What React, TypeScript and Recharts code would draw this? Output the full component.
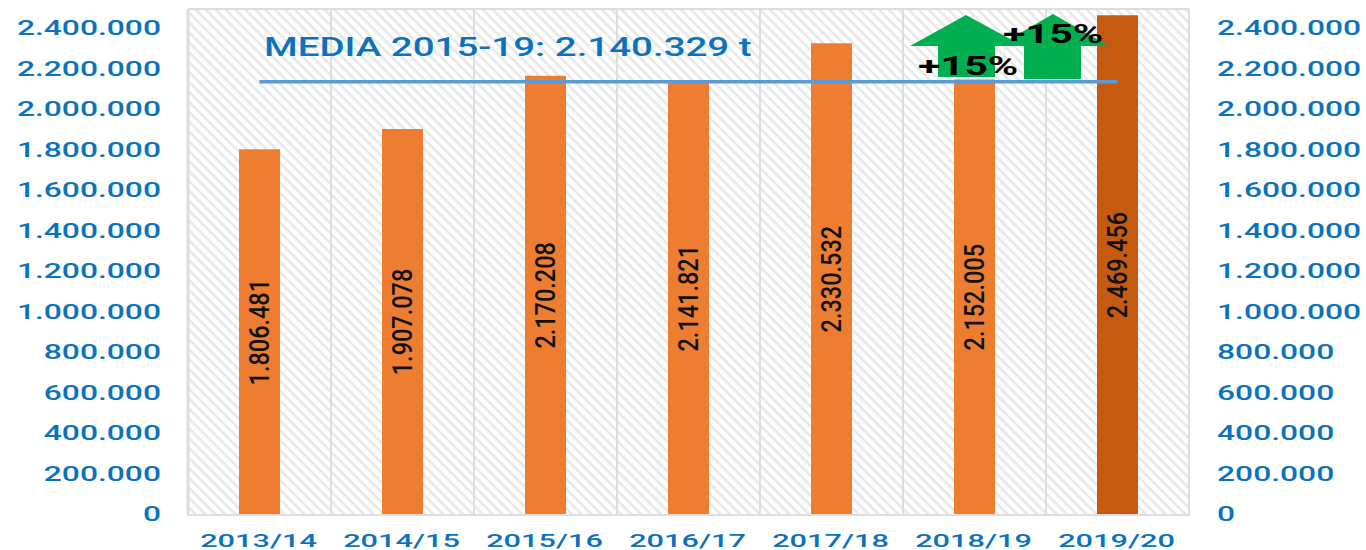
import { Bar, CartesianGrid, Cell, ComposedChart, LabelList, Line, XAxis, YAxis } from "recharts"

const categories = ["2013/14", "2014/15", "2015/16", "2016/17", "2017/18", "2018/19", "2019/20"]
const production = [1806481, 1907078, 2170208, 2141821, 2330532, 2152005, 2469456]
const mean = [2140329, 2140329, 2140329, 2140329, 2140329, 2140329, 2140329]
const yTicks = [0, 200000, 400000, 600000, 800000, 1000000, 1200000, 1400000, 1600000, 1800000, 2000000, 2200000, 2400000]

const data = categories.map((name, i) => ({ name, production: production[i], mean: mean[i] }))

const BLUE = "#0B72BE"
const GRID = "#DDDDDD"
const WIDE = "Roboto, sans-serif"
const STEP = (1189 - 188) / categories.length

const fmt = (v: number) => String(v).replace(/\B(?=(\d{3})+(?!\d))/g, ".")

function YTick({ x, y, payload, anchor }: any) {
  return (
    <text
      transform={`translate(${anchor === "end" ? x + 1 : x},${y + 6}) scale(1.59,1)`}
      textAnchor={anchor}
      fill={BLUE}
      fontFamily={WIDE}
      fontWeight={500}
      fontSize={20}
    >
      {fmt(payload.value)}
    </text>
  )
}

function XTick({ x, y, payload, index }: any) {
  const left = x - STEP / 2
  return (
    <g>
      <line x1={left} x2={left} y1={y - 8} y2={y - 1} stroke={GRID} strokeWidth={2} />
      {index === categories.length - 1 && (
        <line x1={left + STEP} x2={left + STEP} y1={y - 8} y2={y - 1} stroke={GRID} strokeWidth={2} />
      )}
      <text
        transform={`translate(${x - 1},547) scale(1.66,1)`}
        textAnchor="middle"
        fill={BLUE}
        fontFamily={WIDE}
        fontWeight={500}
        fontSize={18.5}
      >
        {payload.value}
      </text>
    </g>
  )
}

function BarValue({ x, y, width, height, value }: any) {
  const cx = x + width / 2
  const cy = y + height / 2
  return (
    <text
      transform={`translate(${cx},${cy}) rotate(-90) scale(0.87,1)`}
      textAnchor="middle"
      dominantBaseline="central"
      fill="#111111"
      fontFamily="Roboto, sans-serif"
      fontWeight={500}
      fontSize={27}
    >
      {fmt(value)}
    </text>
  )
}

export default function App() {
  return (
    <div style={{ position: "absolute", left: 0, top: 0, width: 1366, height: 550 }}>
      <ComposedChart
        width={1366}
        height={550}
        data={data}
        barSize={41}
        margin={{ top: 9, right: 0, bottom: 0, left: 0 }}
      >
        <defs>
          <pattern id="hatch" width="7" height="7" patternUnits="userSpaceOnUse" patternTransform="rotate(45)">
            <rect width="7" height="7" fill="#FFFFFF" />
            <rect width="7" height="2.6" fill="#E8E8E8" />
          </pattern>
        </defs>
        <CartesianGrid
          fill="url(#hatch)"
          stroke={GRID}
          strokeWidth={2}
          verticalCoordinatesGenerator={({ offset }: any) =>
            categories.map((_, i) => offset.left + (i * offset.width) / categories.length).concat(offset.left + offset.width)
          }
        />
        <XAxis dataKey="name" height={35} axisLine={{ stroke: GRID, strokeWidth: 2 }} tickLine={false} tickSize={0} interval={0} tick={<XTick />} />
        <YAxis
          yAxisId="left"
          width={188}
          domain={[0, 2500000]}
          ticks={yTicks}
          interval={0}
          axisLine={{ stroke: GRID, strokeWidth: 3 }}
          tickLine={false}
          tickSize={0}
          tickMargin={28}
          tick={<YTick anchor="end" />}
        />
        <YAxis
          yAxisId="right"
          orientation="right"
          width={177}
          domain={[0, 2500000]}
          ticks={yTicks}
          interval={0}
          axisLine={false}
          tickLine={false}
          tickSize={0}
          tickMargin={28}
          tick={<YTick anchor="start" />}
        />
        <Bar yAxisId="left" dataKey="production" fill="#ED7D31" isAnimationActive={false}>
          {data.map((d, i) => (
            <Cell key={d.name} fill={i === data.length - 1 ? "#C55A11" : "#ED7D31"} />
          ))}
          <LabelList dataKey="production" content={<BarValue />} />
        </Bar>
        <Line yAxisId="left" dataKey="mean" stroke="#5B9BD5" strokeWidth={3.5} dot={false} activeDot={false} isAnimationActive={false} />
        {/* keeps the right axis alive, it has no visible series of its own */}
        <Line yAxisId="right" dataKey="mean" stroke="none" dot={false} activeDot={false} legendType="none" isAnimationActive={false} />
      </ComposedChart>
      <svg width={1366} height={550} style={{ position: "absolute", left: 0, top: 0, pointerEvents: "none" }}>
        <polygon points="966,15 1023,46 995,46 995,77 938,77 938,46 910,46" fill="#00B050" />
        <polygon points="1053,14 1109,46 1081,46 1081,79 1024,79 1024,46 998,46" fill="#00B050" />
        <text transform="translate(264,56) scale(1.54,1)" fill={BLUE} fontFamily={WIDE} fontWeight={500} fontSize={25}>
          MEDIA 2015-19: 2.140.329 t
        </text>
        <text transform="translate(918,75) scale(1.65,1)" fill="#000000" fontFamily={WIDE} fontWeight={700} fontSize={25}>
          +15%
        </text>
        <text transform="translate(1003,43) scale(1.65,1)" fill="#000000" fontFamily={WIDE} fontWeight={700} fontSize={25}>
          +15%
        </text>
      </svg>
    </div>
  )
}
